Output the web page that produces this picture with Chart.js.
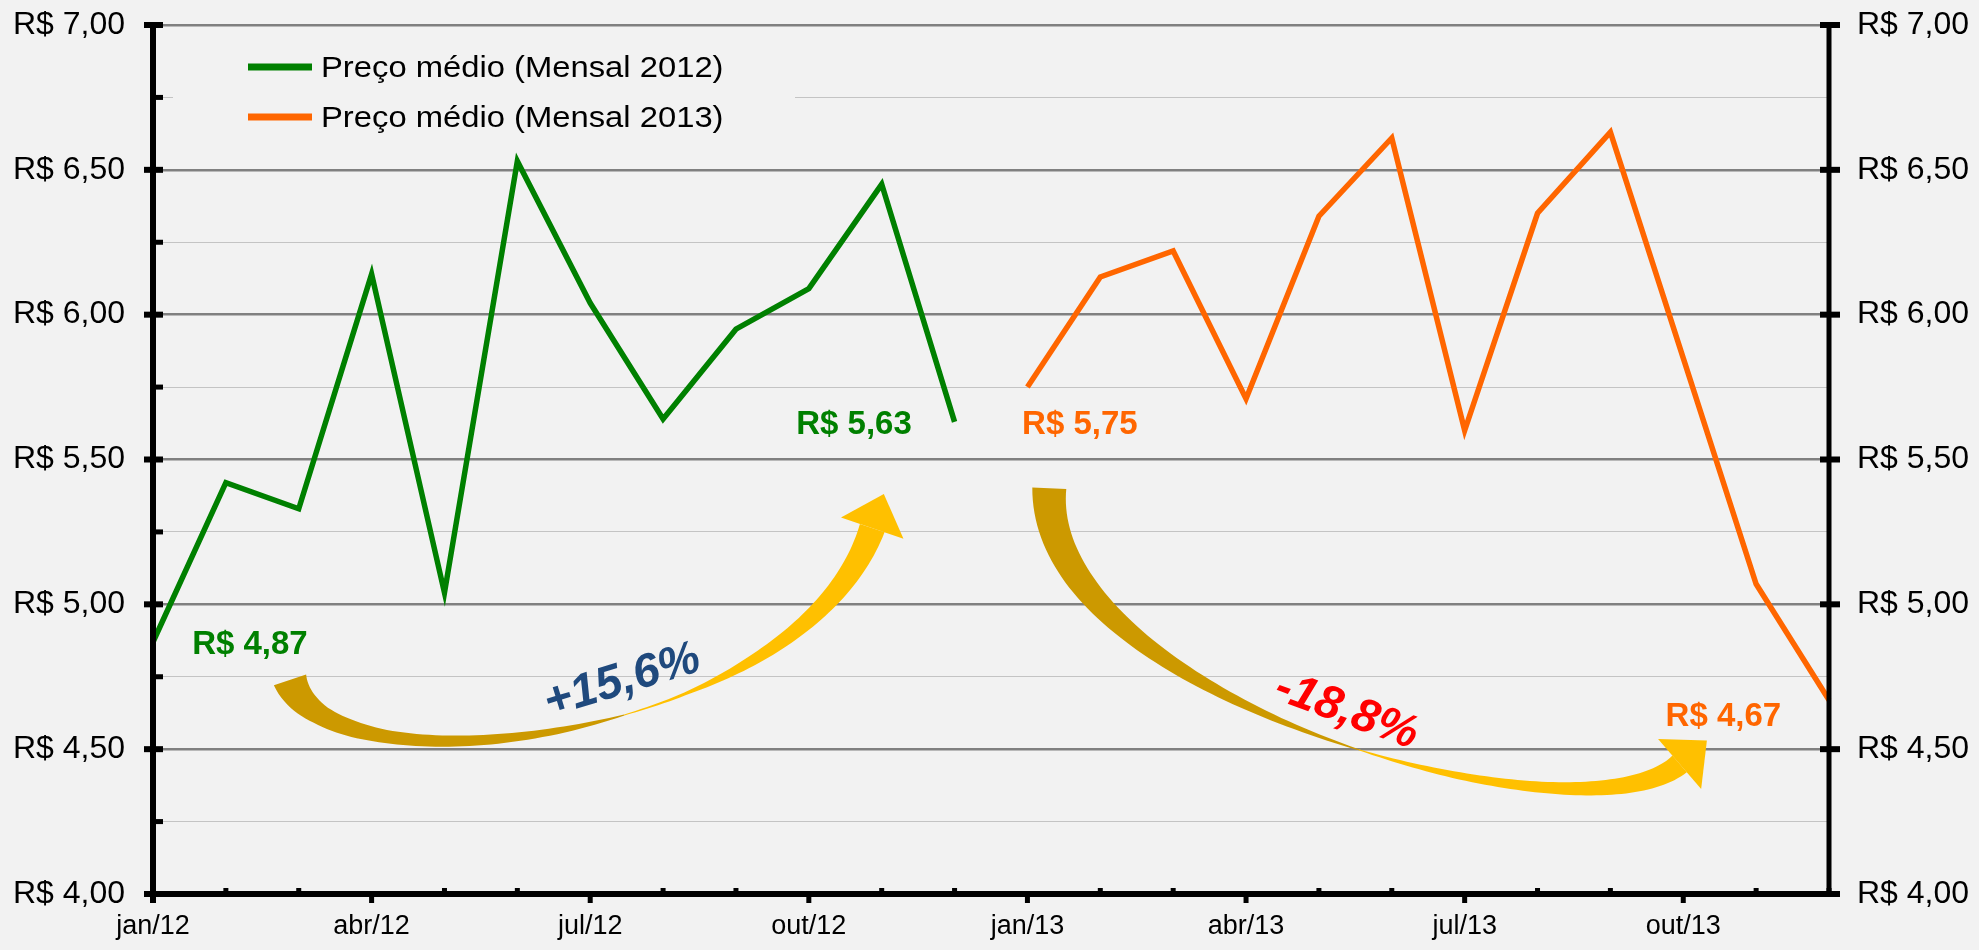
<!DOCTYPE html>
<html lang="pt-BR">
  <head>
    <meta charset="UTF-8" />
    <title>Preço médio mensal</title>
    <script src="https://cdn.jsdelivr.net/npm/chart.js"></script>
    <style>
      body { margin: 0; background: #f2f2f2; }
      #grafico { display: block; }
    </style>
  </head>
  <body>
    <canvas id="grafico" width="1979" height="950"></canvas>

<script>
  // dados
  const meses = ['jan/12', 'fev/12', 'mar/12', 'abr/12', 'mai/12', 'jun/12', 'jul/12', 'ago/12', 'set/12', 'out/12', 'nov/12', 'dez/12',
                 'jan/13', 'fev/13', 'mar/13', 'abr/13', 'mai/13', 'jun/13', 'jul/13', 'ago/13', 'set/13', 'out/13', 'nov/13', 'dez/13'];
  const meses2012 = meses.slice(0, 12);
  const meses2013 = meses.slice(12);
  const preco2012 = [4.87, 5.42, 5.33, 6.14, 5.04, 6.53, 6.04, 5.64, 5.95, 6.09, 6.45, 5.63];
  const preco2013 = [5.75, 6.13, 6.22, 5.71, 6.34, 6.61, 5.60, 6.35, 6.63, 5.85, 5.07, 4.67];
  const legendas = ['Preço médio (Mensal 2012)', 'Preço médio (Mensal 2013)'];
  const eixoY = { min: 4, max: 7, passo: 0.25 };

  const fonte = '"Liberation Sans", Arial, sans-serif';

  function formataReal(v) {
    return 'R$ ' + v.toFixed(2).replace('.', ',');
  }

  function formataPct(v) {
    return (v > 0 ? '+' : '') + v.toFixed(1).replace('.', ',') + '%';
  }

  const var2012 = (preco2012[preco2012.length - 1] / preco2012[0] - 1) * 100;
  const var2013 = (preco2013[preco2013.length - 1] / preco2013[0] - 1) * 100;

  // posicoes das anotacoes em (indice do mes, valor)
  const rotulos = [
    { txt: formataReal(preco2012[0]), i: 1.33, v: 4.86, cor: '#008000' },
    { txt: formataReal(preco2012[11]), i: 9.62, v: 5.62, cor: '#008000' },
    { txt: formataReal(preco2013[0]), i: 12.72, v: 5.62, cor: '#ff6600' },
    { txt: formataReal(preco2013[11]), i: 21.55, v: 4.61, cor: '#ff6600' },
  ];
  const variacoes = [
    { txt: formataPct(var2012), i: 6.44, v: 4.735, ang: -17, cor: '#1f497d' },
    { txt: formataPct(var2013), i: 16.38, v: 4.63, ang: 20, cor: '#ff0000' },
  ];
  const setas = [
    {
      pts: [[1.88, 4.739], [2.43, 4.324], [8.88, 4.532], [9.87, 5.263]],
      larg: [[0, 34], [0.12, 20], [0.25, 13], [0.4, 10], [0.5, 6], [0.57, 1], [0.65, 3], [0.75, 11], [0.9, 20], [1, 26]],
      torcao: 0.57
    },
    {
      pts: [[12.30, 5.401], [12.17, 4.670], [19.58, 4.152], [20.95, 4.449]],
      larg: [[0, 34], [0.15, 26], [0.3, 16], [0.45, 6], [0.54, 1], [0.65, 7], [0.8, 13], [1, 22]],
      torcao: 0.54
    }
  ];

  function px(chart, i, v) {
    return [chart.scales.x.getPixelForValue(i), chart.scales.y.getPixelForValue(v)];
  }

  function interpola(tabela, t) {
    for (let k = 1; k < tabela.length; k++) {
      if (t <= tabela[k][0]) {
        const a = tabela[k - 1], b = tabela[k];
        return a[1] + (b[1] - a[1]) * (t - a[0]) / (b[0] - a[0]);
      }
    }
    return tabela[tabela.length - 1][1];
  }

  function bezier(p, t) {
    const u = 1 - t;
    const a = u * u * u, b = 3 * u * u * t, c = 3 * u * t * t, d = t * t * t;
    return [a * p[0][0] + b * p[1][0] + c * p[2][0] + d * p[3][0],
            a * p[0][1] + b * p[1][1] + c * p[2][1] + d * p[3][1]];
  }

  function tangente(p, t) {
    const u = 1 - t;
    const a = 3 * u * u, b = 6 * u * t, c = 3 * t * t;
    const dx = a * (p[1][0] - p[0][0]) + b * (p[2][0] - p[1][0]) + c * (p[3][0] - p[2][0]);
    const dy = a * (p[1][1] - p[0][1]) + b * (p[2][1] - p[1][1]) + c * (p[3][1] - p[2][1]);
    const n = Math.hypot(dx, dy);
    return [dx / n, dy / n];
  }

  function faixa(ctx, p, larg, t0, t1, cor) {
    const esq = [], dir = [];
    const N = 60;
    for (let k = 0; k <= N; k++) {
      const t = t0 + (t1 - t0) * k / N;
      const b = bezier(p, t), d = tangente(p, t);
      const w = interpola(larg, t) / 2;
      esq.push([b[0] - d[1] * w, b[1] + d[0] * w]);
      dir.push([b[0] + d[1] * w, b[1] - d[0] * w]);
    }
    ctx.beginPath();
    ctx.moveTo(esq[0][0], esq[0][1]);
    esq.forEach(q => ctx.lineTo(q[0], q[1]));
    dir.reverse().forEach(q => ctx.lineTo(q[0], q[1]));
    ctx.closePath();
    ctx.fillStyle = cor;
    ctx.fill();
  }

  function desenhaSeta(chart, seta) {
    const ctx = chart.ctx;
    const p = seta.pts.map(q => px(chart, q[0], q[1]));
    faixa(ctx, p, seta.larg, 0, seta.torcao, '#cc9900');
    faixa(ctx, p, seta.larg, seta.torcao, 1, '#ffc000');
    // ponta da seta
    const fim = p[3], d = tangente(p, 1);
    ctx.beginPath();
    ctx.moveTo(fim[0] + d[0] * 36, fim[1] + d[1] * 36);
    ctx.lineTo(fim[0] - d[1] * 33, fim[1] + d[0] * 33);
    ctx.lineTo(fim[0] + d[1] * 33, fim[1] - d[0] * 33);
    ctx.closePath();
    ctx.fillStyle = '#ffc000';
    ctx.fill();
  }

  const pluginFundo = {
    id: 'fundo',
    beforeDraw(chart) {
      const ctx = chart.ctx;
      ctx.save();
      ctx.fillStyle = '#f2f2f2';
      ctx.fillRect(0, 0, chart.width, chart.height);
      ctx.restore();
    }
  };

  // legenda dentro da area do grafico
  const pluginLegenda = {
    id: 'legendaInterna',
    beforeDatasetsDraw(chart) {
      const ctx = chart.ctx;
      const area = chart.chartArea;
      ctx.save();
      ctx.fillStyle = '#f2f2f2';
      ctx.fillRect(area.left + 20, area.top + 10, 622, 115);
      chart.data.datasets.forEach((ds, k) => {
        const y = area.top + 42 + k * 50;
        ctx.strokeStyle = ds.borderColor;
        ctx.lineWidth = 7;
        ctx.beginPath();
        ctx.moveTo(area.left + 95, y);
        ctx.lineTo(area.left + 159, y);
        ctx.stroke();
        ctx.save();
        ctx.translate(area.left + 168, y + 2);
        ctx.scale(1.13, 1);
        ctx.fillStyle = '#000';
        ctx.font = '29px ' + fonte;
        ctx.textBaseline = 'middle';
        ctx.fillText(ds.label, 0, 0);
        ctx.restore();
      });
      ctx.restore();
    }
  };

  const pluginAnotacoes = {
    id: 'anotacoes',
    afterDatasetsDraw(chart) {
      const ctx = chart.ctx;
      ctx.save();
      setas.forEach(s => desenhaSeta(chart, s));
      ctx.textAlign = 'center';
      ctx.textBaseline = 'middle';
      ctx.font = 'bold 33px ' + fonte;
      rotulos.forEach(r => {
        const q = px(chart, r.i, r.v);
        ctx.fillStyle = r.cor;
        ctx.fillText(r.txt, q[0], q[1]);
      });
      variacoes.forEach(r => {
        const q = px(chart, r.i, r.v);
        ctx.save();
        ctx.translate(q[0], q[1]);
        ctx.rotate(r.ang * Math.PI / 180);
        ctx.font = 'italic bold 47px ' + fonte;
        ctx.fillStyle = r.cor;
        ctx.fillText(r.txt, 0, 0);
        ctx.restore();
      });
      ctx.restore();
    }
  };

  // eixos grossos com marcas
  const pluginEixos = {
    id: 'eixos',
    afterDraw(chart) {
      const ctx = chart.ctx;
      const { left: L, right: R, top: T, bottom: B } = chart.chartArea;
      const sy = chart.scales.y, sx = chart.scales.x;
      ctx.save();
      ctx.fillStyle = '#000';
      ctx.fillRect(L - 3, T - 3, 6, B + 9 - (T - 3));
      ctx.fillRect(R - 2.5, T - 3, 5, B - T + 6);
      ctx.fillRect(L - 9, B - 3, R - L + 20, 6);
      for (let v = eixoY.min; v <= eixoY.max + 1e-9; v += eixoY.passo) {
        const y = sy.getPixelForValue(v);
        if (Math.abs(v * 2 - Math.round(v * 2)) < 1e-9) {
          ctx.fillRect(L - 9, y - 3, 19, 6);
          ctx.fillRect(R - 9, y - 3, 20, 6);
        } else {
          ctx.fillRect(L, y - 2.5, 10, 5);
        }
      }
      for (let i = 1; i < meses.length; i++) {
        const x = sx.getPixelForValue(i);
        if (i % 3 === 0) {
          ctx.fillRect(x - 2.5, B, 5, 9);
        } else {
          ctx.fillRect(x - 2.5, B - 6, 5, 6);
        }
      }
      ctx.restore();
    }
  };

  function rotuloY(v) {
    return Math.abs(v * 2 - Math.round(v * 2)) < 1e-9 ? formataReal(v) : '';
  }

  function ehMaior(ctx) {
    return ctx.tick && Math.abs(ctx.tick.value * 2 - Math.round(ctx.tick.value * 2)) < 1e-9;
  }

  // espaco entre eixo e rotulo feito com marca transparente (padding aumentaria o topo)
  const configEixoY = (posicao, largura, grade) => ({
    type: 'linear',
    position: posicao,
    min: eixoY.min,
    max: eixoY.max,
    afterFit(scale) { scale.width = largura; },
    border: { display: false },
    grid: {
      display: true,
      drawOnChartArea: grade,
      drawTicks: true,
      tickLength: 28,
      tickColor: 'rgba(0,0,0,0)',
      color: ctx => ehMaior(ctx) ? '#808080' : '#c4c4c4',
      lineWidth: ctx => ehMaior(ctx) ? 2.5 : 1,
    },
    ticks: {
      stepSize: eixoY.passo,
      padding: 0,
      color: '#000',
      font: { family: fonte, size: 32 },
      callback: rotuloY,
    },
  });

  const config = {
    type: 'line',
    data: {
      labels: meses,
      datasets: [
        {
          label: legendas[0],
          data: preco2012.map((v, i) => ({ x: meses2012[i], y: v })),
          borderColor: '#008000',
          borderWidth: 5.5,
          pointRadius: 0,
          tension: 0,
          fill: false,
        },
        {
          label: legendas[1],
          data: preco2013.map((v, i) => ({ x: meses2013[i], y: v })),
          borderColor: '#ff6600',
          borderWidth: 5.5,
          pointRadius: 0,
          tension: 0,
          fill: false,
        },
      ],
    },
    options: {
      responsive: false,
      animation: false,
      layout: { padding: { top: 25, left: 0, right: 0, bottom: 0 } },
      plugins: {
        legend: { display: false },
        tooltip: { enabled: false },
      },
      scales: {
        x: {
          type: 'category',
          offset: false,
          afterFit(scale) { scale.height = 56; },
          border: { display: false },
          grid: { display: false },
          ticks: {
            autoSkip: false,
            maxRotation: 0,
            padding: 8,
            color: '#000',
            font: { family: fonte, size: 27 },
            callback: (val, idx) => (idx % 3 === 0 ? meses[idx] : ''),
          },
        },
        y: configEixoY('left', 153, true),
        y2: configEixoY('right', 150, false),
      },
    },
    plugins: [pluginFundo, pluginLegenda, pluginAnotacoes, pluginEixos],
  };

  const grafico = new Chart(document.getElementById('grafico'), config);
</script>
  </body>
</html>
